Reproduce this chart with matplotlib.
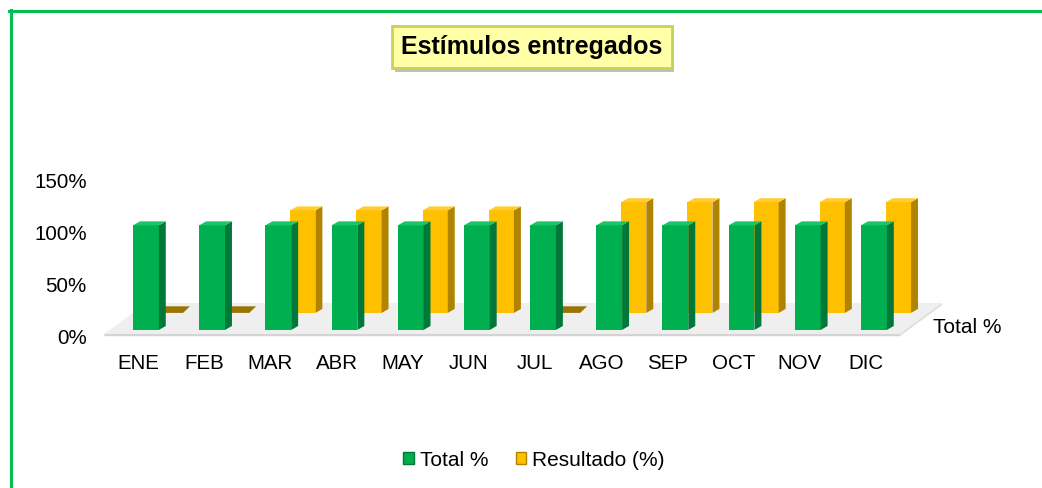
import numpy as np
import matplotlib
matplotlib.use('Agg')
import matplotlib.pyplot as plt
from matplotlib.patches import Polygon, Patch
from matplotlib.lines import Line2D
import matplotlib.patheffects as pe

plt.rcParams['font.family'] = ['Liberation Sans', 'DejaVu Sans']

meses = ['ENE', 'FEB', 'MAR', 'ABR', 'MAY', 'JUN', 'JUL', 'AGO', 'SEP', 'OCT', 'NOV', 'DIC']
total = [100, 100, 100, 100, 100, 100, 100, 100, 100, 100, 100, 100]
resultado = [0, 0, 100, 100, 100, 100, 0, 108, 108, 108, 108, 108]
yticks = [0, 50, 100, 150]
ylabels = ['0%', '50%', '100%', '150%']

# colores (frente, lado, techo)
verde = ('#00b050', '#00783a', '#1cc468')
amarillo = ('#ffc000', '#b08400', '#ffcd33')
losa = '#9a7400'

# "3d" falso: desplazamientos en unidades de datos
prof_x, prof_y = 0.105, 3.8      # profundidad de cada barra
fila_x, fila_y = 0.375, 16.3     # la fila de atras
base_front = 6.7
persp = 0.98

fig = plt.figure(figsize=(10.42, 4.88), dpi=100)
ax = fig.add_axes([0.0912, 0.2795, 0.8225, 0.3730])
ax.set_xlim(-0.65, 12.3)
ax.set_ylim(-14, 160)

x = np.arange(len(meses))

# piso
fx0, fx1, fy0, fy1 = -0.51, 11.51, 2.9, 32.5
ax.add_patch(Polygon([(fx0, fy0), (fx1, fy0), (fx1 + 0.634, fy1), (fx0 + 0.634, fy1)],
                     closed=True, facecolor='#efefef', edgecolor='none', zorder=1))
ax.add_patch(Polygon([(fx0, fy0 - 2.2), (fx1, fy0 - 2.2), (fx1 + 0.03, fy0), (fx0, fy0)],
                     closed=True, facecolor='#d4d4d4', edgecolor='none', zorder=1))
ax.add_patch(Polygon([(fx1, fy0 - 2.2), (fx1 + 0.634, fy1 - 2.2), (fx1 + 0.634, fy1), (fx1, fy0)],
                     closed=True, facecolor='#dedede', edgecolor='none', zorder=1))


def caja(xs, vals, base, ancho, colores, z):
    vals = np.array(vals, dtype=float)
    bars = ax.bar(xs, vals, width=ancho, bottom=base, align='edge',
                  color=colores[0], edgecolor='none', zorder=z)
    for b, v in zip(bars, vals):
        x0 = b.get_x()
        x1 = x0 + b.get_width()
        top = base + v
        if v <= 0:
            ax.add_patch(Polygon([(x0, base), (x1, base), (x1 + prof_x, base + prof_y + 2.5),
                                  (x0 + prof_x, base + prof_y + 2.5)],
                                 closed=True, facecolor=losa, edgecolor='none', zorder=z))
            continue
        # lado
        ax.add_patch(Polygon([(x1, base), (x1 + prof_x, base + prof_y),
                              (x1 + prof_x, top + prof_y), (x1, top)],
                             closed=True, facecolor=colores[1], edgecolor='none', zorder=z))
        # techo
        ax.add_patch(Polygon([(x0, top), (x1, top), (x1 + prof_x, top + prof_y),
                              (x0 + prof_x, top + prof_y)],
                             closed=True, facecolor=colores[2], edgecolor='none', zorder=z))
    return bars


# fila de atras: Resultado
caja(x + 0.30, np.array(resultado) * persp, base_front + fila_y, 0.38, amarillo, 2)
# fila de adelante: Total
caja(x - 0.076, total, base_front, 0.39, verde, 3)

ax.set_xticks(x)
ax.set_xticklabels(meses, fontsize=14.8)
ax.set_yticks(yticks)
ax.set_yticklabels(ylabels, fontsize=14.8)
ax.tick_params(axis='both', length=0)
ax.tick_params(axis='y', pad=6)
ax.tick_params(axis='x', pad=2)
for s in ax.spines.values():
    s.set_visible(False)

ax.text(12.01, 8.6, 'Total %', fontsize=15, ha='left', va='center', clip_on=False)

# titulo
t = fig.text(532 / 1042, 1 - 47 / 488, 'Estímulos entregados', fontsize=18, fontweight='bold',
             ha='center', va='center',
             bbox=dict(boxstyle='square,pad=0.36', facecolor='#ffffa8', edgecolor='#c4d45a', linewidth=2))
t.get_bbox_patch().set_path_effects([pe.SimplePatchShadow(offset=(2, -3), alpha=0.35), pe.Normal()])

# leyenda
handles = [Patch(facecolor=verde[0], edgecolor=verde[1], label='Total %'),
           Patch(facecolor=amarillo[0], edgecolor=amarillo[1], label='Resultado (%)')]
fig.legend(handles=handles, loc='center', bbox_to_anchor=(534 / 1042, 1 - 460 / 488), ncol=2,
           frameon=False, fontsize=15, handlelength=0.5, handleheight=0.5,
           handletextpad=0.3, columnspacing=1.3)

# borde verde
fig.add_artist(Line2D([9 / 1042, 1], [1 - 10.5 / 488, 1 - 10.5 / 488], color='#00c050', linewidth=2.2))
fig.add_artist(Line2D([10.5 / 1042, 10.5 / 1042], [0, 1 - 9.5 / 488], color='#00c050', linewidth=2.2))

fig.savefig('out.png', dpi=100)
